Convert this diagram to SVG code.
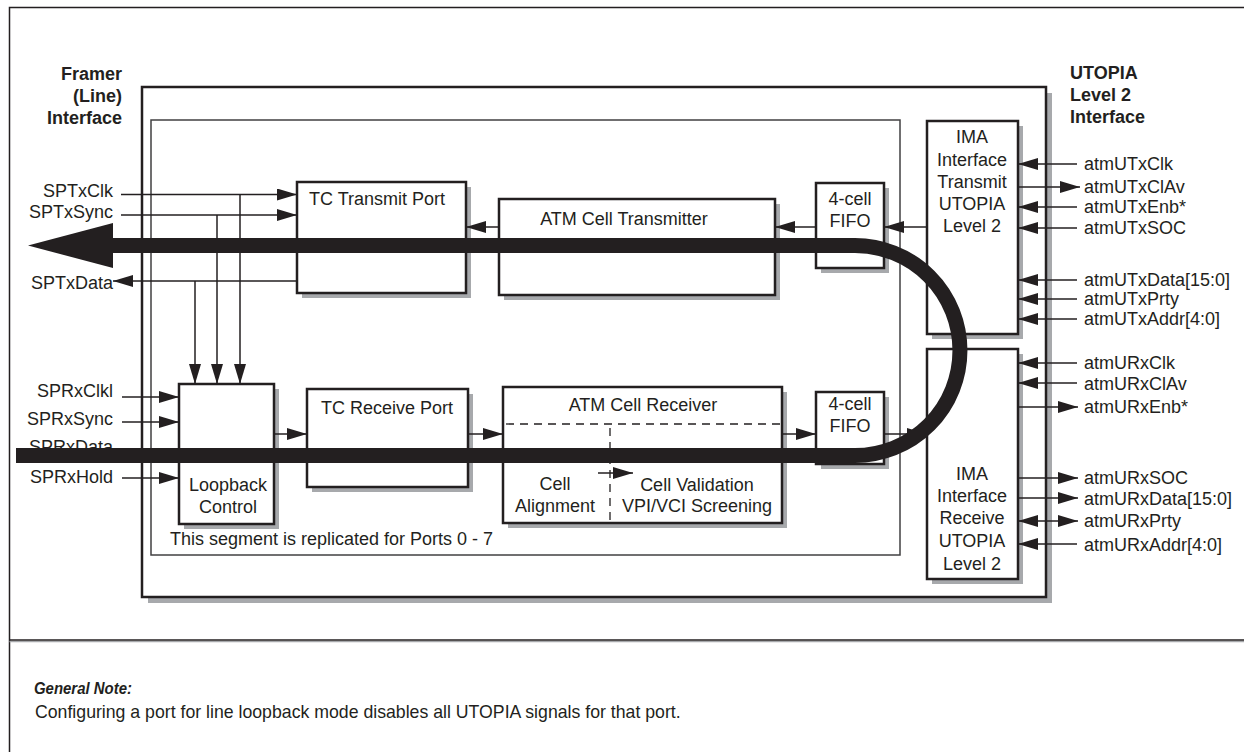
<svg xmlns="http://www.w3.org/2000/svg" width="1244" height="752" viewBox="0 0 1244 752">
<style>
text{font-family:"Liberation Sans",Arial,sans-serif;font-size:18px;fill:#231f20}
.b{font-weight:bold}
.c{text-anchor:middle}
.r{text-anchor:end}
.box{fill:#fff;stroke:#231f20;stroke-width:2.5}
.sh{fill:#a7a9ac}
.ln{stroke:#231f20;stroke-width:1.5;fill:none}
.arr{stroke:#231f20;stroke-width:1.5;fill:none;marker-end:url(#ah)}
.arr2{stroke:#231f20;stroke-width:1.5;fill:none;marker-end:url(#ah);marker-start:url(#as)}
.dash{stroke:#231f20;stroke-width:1.3;fill:none;stroke-dasharray:8 6}
.bus{stroke:#231f20;stroke-width:15;fill:none}
</style>
<defs>
<marker id="ah" markerUnits="userSpaceOnUse" markerWidth="20" markerHeight="12" refX="20" refY="6" orient="auto"><path d="M0,0 L20,6 L0,12 z" fill="#231f20"/></marker>
<marker id="as" markerUnits="userSpaceOnUse" markerWidth="20" markerHeight="12" refX="20" refY="6" orient="auto-start-reverse"><path d="M0,0 L20,6 L0,12 z" fill="#231f20"/></marker>
</defs>
<rect width="1244" height="752" fill="#fff"/>
<g id="frame">
<rect x="9.5" y="7.5" width="1250" height="760" fill="none" stroke="#231f20" stroke-width="1.5"/>
<line x1="9.5" y1="641.5" x2="1244" y2="641.5" stroke="#a7a9ac" stroke-width="1.5"/>
<line x1="9.5" y1="640" x2="1244" y2="640" stroke="#231f20" stroke-width="1.5"/>
</g>
<g id="main-box">
<rect class="sh" x="148" y="93" width="904" height="510"/>
<rect class="box" x="142" y="87" width="904" height="510" stroke-width="3"/>
</g>
<g id="segment-box">
<rect x="151" y="120" width="749" height="435" fill="none" stroke="#414042" stroke-width="1.5"/>
<text x="170" y="545">This segment is replicated for Ports 0 - 7</text>
</g>
<g id="labels">
<text class="b r" x="122" y="80">Framer</text>
<text class="b r" x="122" y="102">(Line)</text>
<text class="b r" x="122" y="124">Interface</text>
<text class="b" x="1070" y="79">UTOPIA</text>
<text class="b" x="1070" y="101">Level 2</text>
<text class="b" x="1070" y="123">Interface</text>
<text class="r" x="113" y="197">SPTxClk</text>
<text class="r" x="113" y="218">SPTxSync</text>
<text class="r" x="113" y="289">SPTxData</text>
<text class="r" x="113" y="397">SPRxClkl</text>
<text class="r" x="113" y="425">SPRxSync</text>
<text class="r" x="113" y="453">SPRxData</text>
<text class="r" x="113" y="483">SPRxHold</text>
<text x="1084" y="170">atmUTxClk</text>
<text x="1084" y="193">atmUTxClAv</text>
<text x="1084" y="213">atmUTxEnb*</text>
<text x="1084" y="234">atmUTxSOC</text>
<text x="1084" y="286">atmUTxData[15:0]</text>
<text x="1084" y="305">atmUTxPrty</text>
<text x="1084" y="325">atmUTxAddr[4:0]</text>
<text x="1084" y="369">atmURxClk</text>
<text x="1084" y="390">atmURxClAv</text>
<text x="1084" y="413">atmURxEnb*</text>
<text x="1084" y="484">atmURxSOC</text>
<text x="1084" y="505">atmURxData[15:0]</text>
<text x="1084" y="527">atmURxPrty</text>
<text x="1084" y="551">atmURxAddr[4:0]</text>
</g>
<g id="tc-transmit">
<rect class="sh" x="302" y="187" width="169" height="111"/>
<rect class="box" x="297" y="182" width="169" height="111"/>
<text x="309" y="205">TC Transmit Port</text>
</g>
<g id="atm-transmitter">
<rect class="sh" x="504" y="204" width="276" height="96"/>
<rect class="box" x="499" y="199" width="276" height="96"/>
<text class="c" x="624" y="225">ATM Cell Transmitter</text>
</g>
<g id="fifo-tx">
<rect class="sh" x="821" y="188" width="68" height="85"/>
<rect class="box" x="816" y="183" width="68" height="85"/>
<text class="c" x="850" y="205">4-cell</text>
<text class="c" x="850" y="227">FIFO</text>
</g>
<g id="ima-tx">
<rect class="sh" x="932" y="126" width="91" height="213"/>
<rect class="box" x="927" y="121" width="91" height="213"/>
<text class="c" x="972" y="143">IMA</text>
<text class="c" x="972" y="166">Interface</text>
<text class="c" x="972" y="188">Transmit</text>
<text class="c" x="972" y="210">UTOPIA</text>
<text class="c" x="972" y="232">Level 2</text>
</g>
<g id="ima-rx">
<rect class="sh" x="932" y="354" width="91" height="230"/>
<rect class="box" x="927" y="349" width="91" height="230"/>
<text class="c" x="972" y="480">IMA</text>
<text class="c" x="972" y="502">Interface</text>
<text class="c" x="972" y="524">Receive</text>
<text class="c" x="972" y="547">UTOPIA</text>
<text class="c" x="972" y="570">Level 2</text>
</g>
<g id="loopback">
<rect class="sh" x="184" y="389" width="95" height="140"/>
<rect class="box" x="179" y="384" width="95" height="140"/>
<text class="c" x="228" y="491">Loopback</text>
<text class="c" x="228" y="513">Control</text>
</g>
<g id="tc-receive">
<rect class="sh" x="312" y="394" width="161" height="98"/>
<rect class="box" x="307" y="389" width="161" height="98"/>
<text class="c" x="387" y="414">TC Receive Port</text>
</g>
<g id="atm-receiver">
<rect class="sh" x="508" y="392" width="279" height="136"/>
<rect class="box" x="503" y="387" width="279" height="136"/>
<text class="c" x="643" y="411">ATM Cell Receiver</text>
<line class="dash" x1="506" y1="424" x2="780" y2="424"/>
<line class="dash" x1="610" y1="428" x2="610" y2="522"/>
<text class="c" x="555" y="490">Cell</text>
<text class="c" x="555" y="512">Alignment</text>
<text class="c" x="697" y="491">Cell Validation</text>
<text class="c" x="697" y="512">VPI/VCI Screening</text>
</g>
<g id="fifo-rx">
<rect class="sh" x="821" y="397" width="68" height="72"/>
<rect class="box" x="816" y="392" width="68" height="72"/>
<text class="c" x="850" y="410">4-cell</text>
<text class="c" x="850" y="432">FIFO</text>
</g>
<g id="connectors">
<line class="arr" x1="121" y1="194.5" x2="297" y2="194.5"/>
<line class="arr" x1="121" y1="215" x2="297" y2="215"/>
<line class="arr" x1="297" y1="281" x2="113" y2="281"/>
<line class="arr" x1="195" y1="281" x2="195" y2="384"/>
<line class="arr" x1="217" y1="215" x2="217" y2="384"/>
<line class="arr" x1="240" y1="194.5" x2="240" y2="384"/>
<line class="arr" x1="122" y1="397" x2="179" y2="397"/>
<line class="arr" x1="122" y1="422" x2="179" y2="422"/>
<line class="arr" x1="122" y1="478" x2="179" y2="478"/>
<line class="arr" x1="499" y1="227" x2="466" y2="227"/>
<line class="arr" x1="816" y1="227" x2="775" y2="227"/>
<line class="arr" x1="927" y1="227" x2="884" y2="227"/>
<line class="arr" x1="274" y1="434" x2="307" y2="434"/>
<line class="arr" x1="468" y1="434" x2="503" y2="434"/>
<line class="arr" x1="782" y1="434" x2="816" y2="434"/>
<line class="arr" x1="884" y1="434" x2="927" y2="434"/>
<line class="arr" x1="598" y1="473" x2="633" y2="473"/>
<line class="arr" x1="1077" y1="164" x2="1018" y2="164"/>
<line class="arr" x1="1018" y1="187" x2="1080" y2="187"/>
<line class="arr" x1="1077" y1="207" x2="1018" y2="207"/>
<line class="arr" x1="1077" y1="228" x2="1018" y2="228"/>
<line class="arr" x1="1077" y1="280" x2="1018" y2="280"/>
<line class="arr" x1="1077" y1="299" x2="1018" y2="299"/>
<line class="arr" x1="1077" y1="319" x2="1018" y2="319"/>
<line class="arr" x1="1077" y1="363" x2="1018" y2="363"/>
<line class="arr" x1="1077" y1="383" x2="1018" y2="383"/>
<line class="arr" x1="1018" y1="407" x2="1078" y2="407"/>
<line class="arr" x1="1018" y1="478" x2="1078" y2="478"/>
<line class="arr" x1="1018" y1="498" x2="1078" y2="498"/>
<line class="arr2" x1="1018" y1="521" x2="1078" y2="521"/>
<line class="arr" x1="1077" y1="544" x2="1018" y2="544"/>
<path class="bus" d="M16,455.5 H855 A105,105 0 0 0 855,245.5 H110"/>
<polygon points="28,245.5 113,223 113,268" fill="#231f20"/>
</g>
<g id="note">
<text x="34" y="694" textLength="98" lengthAdjust="spacingAndGlyphs" style="font-weight:bold;font-style:italic;font-size:17px">General Note:</text>
<text x="35" y="718" style="font-size:17.7px">Configuring a port for line loopback mode disables all UTOPIA signals for that port.</text>
</g>
</svg>
